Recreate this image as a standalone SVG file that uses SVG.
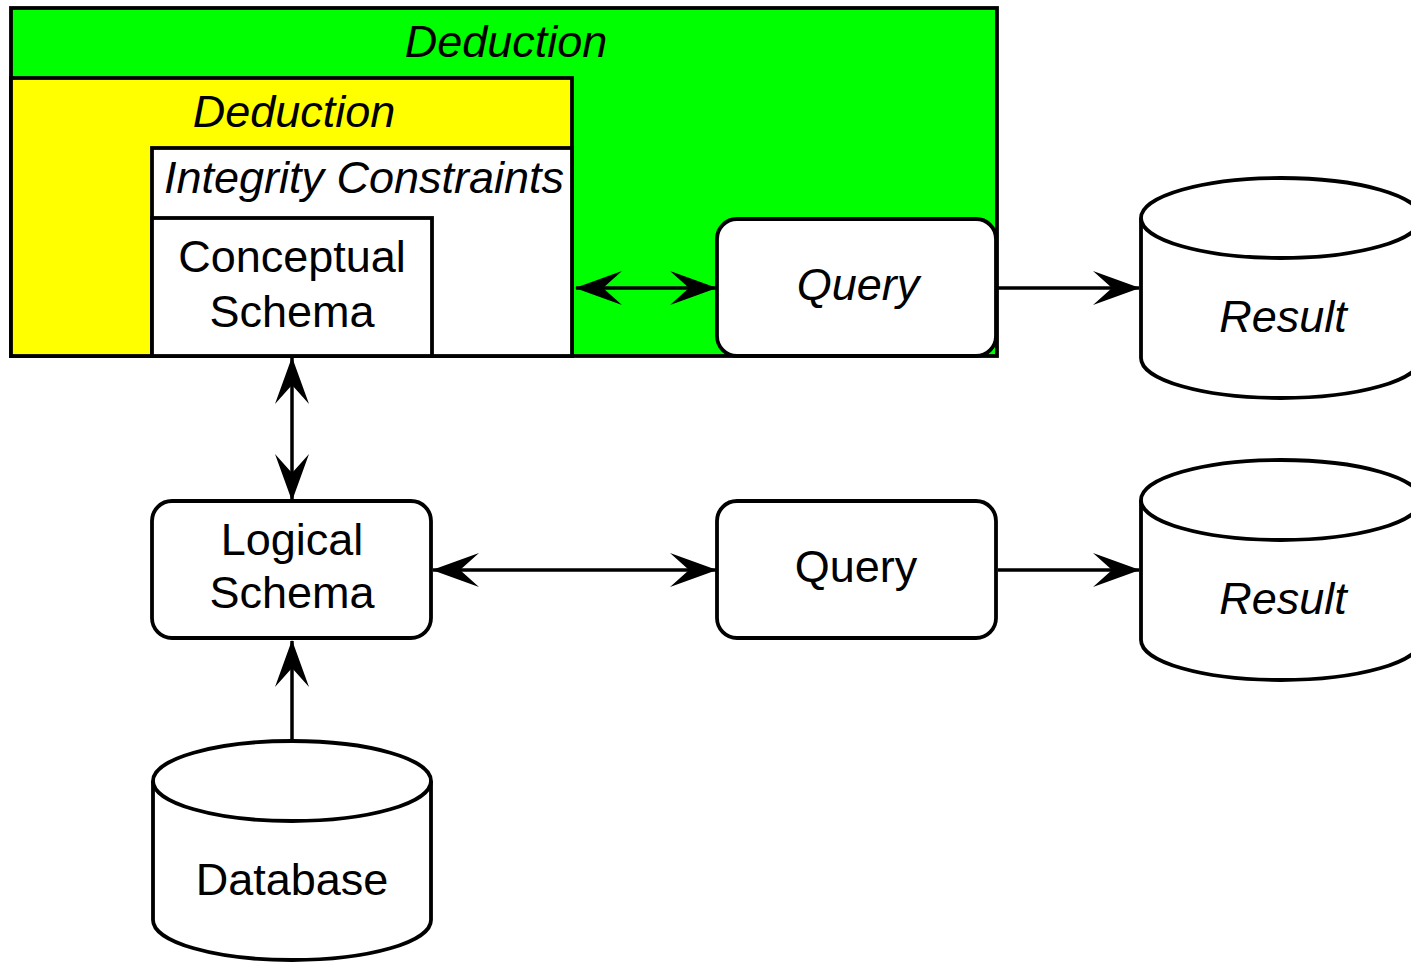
<svg xmlns="http://www.w3.org/2000/svg" width="1411" height="962" viewBox="0 0 1411 962">
<style>
.b{stroke:#000;stroke-width:3.8;}
.t{font-family:"Liberation Sans",Arial,sans-serif;font-size:45px;fill:#000;text-anchor:middle;}
.i{font-style:italic;}
.c{fill:none;stroke:#000;stroke-width:3.5;}
</style>
<defs>
<marker id="ah" viewBox="0 0 47 34" refX="46" refY="17" markerWidth="47" markerHeight="34" markerUnits="userSpaceOnUse" orient="auto-start-reverse">
<path d="M47,17 L0,0 L19,17 L0,34 Z" fill="#000"/>
</marker>
</defs>
<rect width="1411" height="962" fill="#fff"/>
<g id="deduction-outer">
<rect class="b" x="11" y="8" width="986" height="348" fill="#00ff00"/>
<text class="t i" x="506" y="57">Deduction</text>
</g>
<g id="deduction-inner">
<rect class="b" x="11" y="78" width="561" height="278" fill="#ffff00"/>
<text class="t i" x="294" y="127">Deduction</text>
</g>
<g id="integrity">
<rect class="b" x="152" y="148" width="420" height="208" fill="#fff"/>
<text class="t i" x="364" y="193">Integrity Constraints</text>
</g>
<g id="conceptual">
<rect class="b" x="152" y="218" width="280" height="138" fill="#fff"/>
<text class="t" x="292" y="272">Conceptual</text>
<text class="t" x="292" y="327">Schema</text>
</g>
<g id="query1">
<rect class="b" x="717" y="219" width="279" height="137" rx="20" fill="#fff"/>
<text class="t i" x="858" y="300">Query</text>
</g>
<g id="result1">
<path class="b" d="M1141,218 L1141,358 A140,40 0 0 0 1421,358 L1421,218" fill="#fff"/>
<ellipse class="b" cx="1281" cy="218" rx="140" ry="40" fill="#fff"/>
<text class="t i" x="1283" y="332">Result</text>
</g>
<g id="logical">
<rect class="b" x="152" y="501" width="279" height="137" rx="20" fill="#fff"/>
<text class="t" x="292" y="555">Logical</text>
<text class="t" x="292" y="608">Schema</text>
</g>
<g id="query2">
<rect class="b" x="717" y="501" width="279" height="137" rx="20" fill="#fff"/>
<text class="t" x="856" y="582">Query</text>
</g>
<g id="result2">
<path class="b" d="M1141,500 L1141,640 A140,40 0 0 0 1421,640 L1421,500" fill="#fff"/>
<ellipse class="b" cx="1281" cy="500" rx="140" ry="40" fill="#fff"/>
<text class="t i" x="1283" y="614">Result</text>
</g>
<g id="database">
<path class="b" d="M153,781 L153,920 A139,40 0 0 0 431,920 L431,781" fill="#fff"/>
<ellipse class="b" cx="292" cy="781" rx="139" ry="40" fill="#fff"/>
<text class="t" x="292" y="895">Database</text>
</g>
<g id="connectors">
<path class="c" d="M576,288 L716,288" marker-start="url(#ah)" marker-end="url(#ah)"/>
<path class="c" d="M998,288 L1139,288" marker-end="url(#ah)"/>
<path class="c" d="M292,358 L292,500" marker-start="url(#ah)" marker-end="url(#ah)"/>
<path class="c" d="M433,570 L716,570" marker-start="url(#ah)" marker-end="url(#ah)"/>
<path class="c" d="M998,570 L1139,570" marker-end="url(#ah)"/>
<path class="c" d="M292,741 L292,641" marker-end="url(#ah)"/>
</g>
</svg>
